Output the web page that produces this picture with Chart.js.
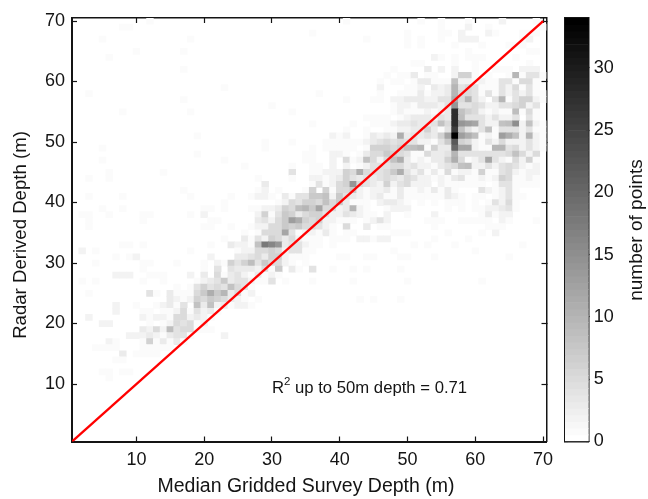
<!DOCTYPE html>
<html>
<head>
<meta charset="utf-8">
<script src="https://cdn.jsdelivr.net/npm/chart.js@4/dist/chart.umd.min.js"></script>
<style>
    html, body { margin: 0; padding: 0; background: #fff; }
    #wrap { position: relative; width: 648px; height: 499px; overflow: hidden; filter: blur(0.3px); }
    #mainChart { position: absolute; left: 0; top: 0; }
    #barChart { position: absolute; left: 548px; top: 0; }
</style>
</head>
<body>
<div id="wrap">
    <canvas id="mainChart" width="648" height="499"></canvas>
    <canvas id="barChart" width="100" height="499"></canvas>
</div>
<script>
const xTicks = [10, 20, 30, 40, 50, 60, 70];
const yTicks = [10, 20, 30, 40, 50, 60, 70];
const barTicks = [0, 5, 10, 15, 20, 25, 30];
const maxCount = 34;
const fitLine = [0, 70];

const xTitle = 'Median Gridded Survey Depth (m)';
const yTitle = 'Radar Derived Depth (m)';
const barTitle = 'number of points';

// radar depth bin of each line in rowCounts
const radarBins = [
    70, 69, 68, 67, 66, 65, 64, 63, 62, 61,
    60, 59, 58, 57, 56, 55, 54, 53, 52, 51,
    50, 49, 48, 47, 46, 45, 44, 43, 42, 41,
    40, 39, 38, 37, 36, 35, 34, 33, 32, 31,
    30, 29, 28, 27, 26, 25, 24, 23, 22, 21,
    20, 19, 18, 17, 16, 15, 14, 12, 11
];

// survey depth bin, count, survey depth bin, count ... (empty bins left out)
const rowCounts = [
    [12,1, 41,1, 52,1, 55,1, 59,1, 64,2, 69,1],
    [8,1, 9,1, 55,1, 59,2, 62,1, 70,1],
    [36,1, 50,1, 55,1, 56,1, 58,2, 62,2, 63,1, 67,1, 68,1, 69,1],
    [5,1, 18,1, 44,1, 50,1, 52,1, 55,1, 58,2, 59,2, 60,2, 67,1, 68,2],
    [50,1, 52,1, 57,1, 61,1, 65,1, 66,1, 67,1],
    [10,1, 17,1, 59,1, 68,1, 69,1],
    [6,1, 54,2, 55,1, 57,1, 59,1, 60,1, 61,1, 66,1],
    [51,1, 52,1, 57,1, 60,1, 68,1],
    [17,1, 48,1, 53,3, 55,2, 57,2, 60,1, 63,1, 64,1, 65,1, 67,2, 68,2, 69,2],
    [47,1, 49,1, 50,1, 51,3, 53,1, 54,1, 57,2, 58,6, 59,6, 60,1, 62,1, 65,1, 66,10, 67,1, 68,4, 69,4, 70,1],
    [46,1, 48,1, 49,1, 51,1, 52,3, 53,3, 54,1, 55,1, 56,1, 57,8, 58,2, 59,2, 60,1, 61,2, 62,1, 63,1, 64,4, 65,4, 66,1, 67,5, 68,5, 69,1],
    [23,1, 46,2, 50,1, 51,1, 52,2, 54,3, 55,2, 56,3, 57,10, 58,4, 59,5, 60,4, 61,1, 62,1, 63,1, 64,4, 65,2, 66,5, 67,1, 68,4, 69,1],
    [3,1, 37,1, 46,1, 49,1, 50,1, 51,1, 52,3, 53,1, 54,2, 55,2, 56,3, 57,10, 58,5, 59,5, 60,4, 61,1, 62,4, 63,1, 64,4, 65,2, 66,4, 67,2, 68,4, 69,1, 70,1],
    [17,1, 41,1, 45,1, 46,1, 48,2, 49,2, 50,3, 51,3, 52,3, 53,2, 54,2, 55,4, 56,4, 57,11, 58,5, 59,10, 60,4, 61,2, 63,4, 64,10, 65,1, 66,4, 67,6, 68,6, 69,2, 70,1],
    [30,1, 48,1, 49,2, 50,2, 51,1, 52,3, 53,3, 54,3, 55,2, 56,4, 57,14, 58,4, 59,4, 60,5, 61,4, 62,2, 63,2, 64,4, 65,4, 66,5, 67,6, 68,2, 69,4],
    [8,1, 18,1, 33,1, 48,1, 49,2, 50,1, 51,1, 52,1, 53,2, 54,1, 55,2, 56,3, 57,28, 58,8, 59,6, 60,5, 61,2, 62,1, 63,2, 64,1, 65,1, 66,9, 67,1, 68,5, 69,1],
    [44,1, 45,1, 46,1, 47,1, 49,1, 50,2, 51,3, 52,3, 53,3, 54,2, 55,4, 56,3, 57,28, 58,9, 59,4, 60,4, 61,4, 62,2, 63,4, 64,2, 65,2, 66,4, 68,4, 69,1],
    [36,1, 42,1, 45,1, 46,1, 47,1, 48,2, 49,3, 50,3, 51,4, 52,3, 53,3, 54,4, 55,8, 56,5, 57,28, 58,14, 59,13, 60,12, 61,4, 62,2, 63,2, 64,8, 65,9, 66,15, 67,2, 68,8, 69,2, 70,1],
    [41,1, 44,1, 47,1, 48,1, 49,2, 50,2, 51,3, 52,3, 53,6, 54,3, 55,1, 56,4, 57,26, 58,8, 59,4, 60,2, 61,4, 62,8, 63,1, 64,4, 65,4, 66,4, 67,2, 68,4, 69,1, 70,1],
    [19,1, 39,2, 40,1, 41,2, 44,1, 45,3, 46,2, 47,3, 48,2, 49,11, 50,3, 51,4, 52,3, 53,4, 54,3, 55,6, 56,12, 57,34, 58,13, 59,11, 60,9, 61,1, 62,2, 63,1, 64,13, 65,11, 66,8, 67,2, 68,10, 69,2, 70,1],
    [29,1, 33,1, 38,1, 39,1, 40,1, 41,1, 42,1, 43,1, 44,2, 45,3, 46,4, 47,5, 48,4, 49,5, 50,4, 51,4, 52,2, 53,2, 54,1, 55,4, 56,7, 57,22, 58,6, 59,5, 60,2, 61,1, 62,4, 63,2, 64,5, 65,2, 66,2, 67,2, 68,4, 69,2, 70,1],
    [5,1, 29,1, 36,1, 38,1, 39,1, 40,1, 41,1, 42,1, 44,1, 45,6, 46,6, 47,6, 48,5, 49,6, 50,8, 51,9, 52,10, 53,1, 54,6, 55,3, 56,3, 57,20, 58,12, 59,12, 60,2, 61,1, 62,1, 63,10, 64,10, 65,4, 66,5, 67,2, 68,4, 69,2, 70,1],
    [19,1, 35,1, 36,1, 39,2, 40,2, 41,1, 43,1, 44,3, 45,5, 46,5, 47,7, 48,6, 49,5, 50,4, 51,1, 52,1, 53,5, 54,3, 55,3, 56,4, 57,10, 58,4, 59,4, 60,4, 61,4, 62,4, 63,4, 64,4, 65,5, 66,8, 67,5, 68,2, 69,5],
    [5,1, 23,1, 35,1, 36,1, 39,2, 41,5, 42,1, 43,2, 44,8, 45,5, 46,2, 47,5, 48,8, 49,11, 50,3, 51,1, 52,2, 53,1, 54,3, 55,3, 56,6, 57,11, 58,5, 59,1, 60,2, 61,4, 62,12, 63,4, 64,2, 65,1, 66,5, 67,2, 68,6, 69,1],
    [26,1, 33,1, 36,1, 37,1, 39,2, 41,2, 43,1, 44,2, 45,4, 46,4, 47,4, 48,5, 49,5, 50,3, 51,4, 52,2, 53,2, 54,1, 55,3, 56,4, 57,5, 58,8, 59,9, 60,2, 61,2, 62,4, 63,2, 64,4, 65,5, 66,4, 67,2, 68,1, 69,2],
    [6,1, 14,1, 33,4, 36,1, 37,1, 38,2, 39,2, 40,2, 41,6, 42,5, 43,11, 44,5, 45,4, 46,4, 47,5, 48,7, 49,11, 50,4, 51,2, 52,4, 53,1, 54,3, 55,1, 56,5, 57,1, 58,2, 59,2, 60,1, 61,6, 62,1, 63,1, 64,4, 65,5, 66,2, 67,1, 68,2, 69,2],
    [3,1, 6,1, 28,1, 33,1, 36,2, 37,2, 38,1, 39,2, 40,3, 41,6, 42,4, 43,3, 44,4, 45,3, 46,4, 47,5, 48,4, 49,3, 50,5, 51,4, 52,2, 53,2, 54,1, 55,2, 56,1, 57,3, 58,4, 59,1, 60,1, 61,2, 62,1, 63,2, 64,6, 65,5, 66,1, 67,1, 68,2, 69,1],
    [29,3, 36,1, 37,4, 38,1, 39,2, 40,5, 41,6, 42,14, 43,5, 44,4, 45,3, 46,2, 47,6, 48,2, 49,4, 50,5, 51,2, 52,2, 53,2, 55,2, 56,1, 57,1, 58,1, 59,1, 60,1, 61,1, 63,1, 64,4, 65,4, 66,1, 67,1, 68,1, 69,1],
    [17,1, 28,1, 29,2, 31,1, 35,1, 36,6, 38,6, 39,1, 40,5, 41,5, 42,7, 43,2, 44,1, 45,2, 46,2, 47,3, 48,1, 49,3, 50,1, 51,1, 52,2, 53,1, 54,3, 55,1, 56,3, 57,1, 61,4, 62,2, 63,1, 64,2, 65,4, 66,1],
    [3,1, 8,1, 18,1, 24,1, 27,1, 28,2, 29,2, 30,1, 32,3, 33,1, 34,4, 35,4, 36,7, 37,7, 38,8, 39,2, 40,7, 41,4, 42,3, 43,2, 44,1, 45,2, 46,3, 47,1, 48,1, 49,3, 50,1, 51,1, 52,1, 53,1, 54,1, 55,1, 56,3, 57,2, 58,1, 60,1, 61,1, 63,1, 64,2, 65,4, 66,1, 67,1],
    [23,1, 31,1, 32,2, 33,5, 34,4, 35,6, 36,6, 37,5, 38,8, 39,5, 40,7, 41,3, 42,1, 43,1, 44,1, 46,2, 47,3, 48,3, 49,2, 50,1, 52,1, 54,1, 56,1, 57,1, 58,1, 60,1, 62,1, 63,4, 64,2, 65,5, 66,1],
    [5,1, 8,1, 20,1, 21,1, 23,1, 27,1, 28,1, 29,2, 30,2, 31,3, 32,6, 33,5, 34,9, 35,10, 36,7, 37,12, 38,5, 39,5, 40,2, 41,3, 42,10, 43,2, 44,1, 47,1, 48,2, 49,2, 50,2, 56,1, 58,1, 60,1, 61,1, 62,2, 63,2, 64,3, 65,4, 66,1],
    [2,1, 3,1, 6,1, 11,1, 12,1, 18,1, 20,2, 28,2, 29,6, 30,1, 31,4, 32,7, 33,6, 34,3, 35,5, 36,6, 37,6, 38,4, 39,2, 40,2, 41,4, 42,3, 43,2, 44,1, 45,1, 47,2, 50,1, 54,2, 61,1, 62,3, 63,1, 64,2, 65,2],
    [3,1, 11,1, 21,1, 22,1, 28,3, 29,4, 30,2, 31,5, 32,7, 33,13, 34,11, 35,6, 36,5, 37,6, 38,2, 39,2, 40,1, 41,1, 42,1, 44,1, 45,2, 46,4, 47,2, 53,1, 54,1, 55,1, 58,1, 59,1, 60,1, 61,1, 62,1, 64,2, 65,1, 69,1],
    [3,1, 20,1, 21,1, 24,1, 27,1, 28,2, 29,2, 30,5, 31,5, 32,7, 33,6, 34,7, 35,5, 36,5, 37,4, 38,2, 39,1, 41,5, 44,3, 46,1, 47,1, 54,1, 62,1, 63,1, 64,1],
    [26,1, 28,1, 29,5, 30,5, 31,5, 32,12, 33,4, 34,1, 35,2, 36,2, 37,1, 38,3, 39,1, 41,1, 42,1, 48,1, 49,1, 50,1, 56,1, 61,1, 63,2],
    [23,1, 26,3, 27,1, 28,4, 29,2, 30,6, 31,5, 32,3, 33,5, 34,2, 35,1, 36,1, 37,1, 39,1, 40,1, 41,1, 43,2, 44,2, 45,1, 46,2, 47,2, 54,1, 59,1],
    [8,1, 9,1, 11,1, 21,1, 24,3, 25,2, 26,2, 27,1, 28,8, 29,18, 30,16, 31,14, 32,3, 33,4, 34,4, 35,2, 36,1, 37,1, 39,1, 51,1, 53,1, 57,1, 67,1],
    [2,2, 4,1, 18,1, 25,1, 26,2, 27,2, 28,5, 29,5, 30,6, 31,5, 32,2, 33,4, 34,4, 35,1, 36,1, 48,1, 60,1],
    [7,1, 9,1, 10,2, 21,2, 25,3, 26,3, 27,4, 28,5, 29,3, 30,6, 31,6, 32,2, 33,1, 34,1, 35,1, 40,1, 41,1, 44,1, 45,1, 49,1, 50,1, 54,1, 65,1],
    [4,1, 11,1, 12,1, 16,1, 20,1, 22,2, 23,1, 24,6, 25,4, 26,6, 27,9, 28,4, 29,7, 30,5, 31,5, 32,2, 33,1, 35,1],
    [11,1, 20,1, 22,4, 24,4, 25,3, 26,3, 27,3, 28,2, 29,5, 30,1, 31,7, 33,3, 34,1, 36,4, 39,1, 42,1, 44,1, 49,1],
    [7,2, 8,2, 9,2, 12,1, 13,1, 14,1, 18,2, 20,3, 22,5, 23,1, 24,3, 25,4, 26,2, 27,1, 28,3, 29,1, 30,2, 31,1],
    [2,1, 4,1, 11,1, 14,1, 19,1, 20,2, 21,3, 22,4, 23,7, 24,3, 25,4, 26,4, 27,2, 28,1, 29,1, 30,4, 32,1, 36,1, 42,1, 50,1, 61,1],
    [16,1, 18,1, 19,4, 20,6, 21,4, 22,5, 23,4, 24,8, 25,5, 26,4, 27,1],
    [3,1, 12,4, 13,1, 15,3, 16,1, 17,1, 18,1, 19,5, 20,7, 21,11, 22,7, 23,10, 24,3, 25,5, 26,1, 27,2],
    [15,3, 16,2, 17,1, 18,2, 19,6, 20,5, 21,7, 22,6, 23,5, 24,3, 25,2, 26,1, 28,1, 43,1, 45,1, 49,1],
    [7,2, 10,1, 13,1, 14,2, 15,3, 16,1, 17,4, 19,8, 20,3, 21,8, 22,2, 23,3, 24,1, 25,2, 26,2, 27,1],
    [7,2, 11,1, 12,1, 14,1, 15,1, 16,2, 17,5, 18,1, 19,4, 20,2, 21,3, 22,1],
    [3,2, 11,2, 12,1, 13,2, 14,2, 15,1, 16,5, 17,5, 18,2, 19,3, 20,2, 21,1],
    [5,2, 6,2, 12,1, 14,1, 15,2, 16,5, 17,4, 18,5, 19,1, 20,2],
    [11,3, 12,2, 13,5, 14,2, 15,9, 16,4, 17,5, 18,5, 19,1, 20,1, 21,1],
    [9,2, 10,2, 11,2, 12,3, 13,2, 14,1, 15,3, 16,4, 17,4, 18,1, 23,2],
    [6,2, 7,1, 11,1, 12,6, 13,1, 14,3, 15,1, 16,3, 17,1],
    [4,1, 5,1, 6,1, 7,1, 11,1, 12,1, 13,1, 14,1, 15,1],
    [8,3, 10,1, 11,1, 12,1, 13,1],
    [7,1, 8,1],
    [5,1, 6,1, 8,1, 9,1],
    [6,1]
];

const ink = '#141414';
const fontFamily = '"Liberation Sans", Arial, sans-serif';

function grayFor(n) {
    // flipped 64 step gray map, 0 is white and maxCount is black
    const step = Math.min(63, Math.floor(n / maxCount * 64));
    const g = Math.round(255 * (1 - step / 63));
    return `rgb(${g},${g},${g})`;
}

const cells = [];
radarBins.forEach((bin, i) => {
    const pairs = rowCounts[i];
    for (let k = 0; k < pairs.length; k += 2) {
        cells.push({ x: pairs[k], y: [bin - 0.5, bin + 0.5], n: pairs[k + 1] });
    }
});

function fixedTicks(values) {
    return scale => { scale.ticks = values.map(v => ({ value: v })); };
}

function frameAxis(position, size, ticks, showLabels, padding, width) {
    const horizontal = position === 'top' || position === 'bottom';
    return {
        type: 'linear',
        axis: horizontal ? 'x' : 'y',
        position: position,
        offset: false,
        afterBuildTicks: fixedTicks(ticks),
        afterFit: scale => {
            if (horizontal) scale.height = size;
            else scale.width = size;
            // tick labels must not push the plot box around
            scale.paddingTop = scale.paddingBottom = scale.paddingLeft = scale.paddingRight = 0;
        },
        border: { display: true, color: ink, width: width },
        grid: { offset: false, drawOnChartArea: false, drawTicks: true, tickLength: -5, tickColor: ink, tickWidth: 1.2 },
        ticks: {
            display: showLabels,
            color: ink,
            padding: padding,
            autoSkip: false,
            maxRotation: 0,
            font: { family: fontFamily, size: 18 }
        }
    };
}

function withRange(axis, min, max) {
    axis.min = min;
    axis.max = max;
    return axis;
}

function drawText(ctx, text, x, y, font, angle) {
    ctx.save();
    ctx.translate(x, y);
    ctx.rotate(angle);
    ctx.fillStyle = ink;
    ctx.textAlign = 'center';
    ctx.textBaseline = 'middle';
    ctx.font = `${font}px ${fontFamily}`;
    ctx.fillText(text, 0, 0);
    ctx.restore();
}

const annotation = {
    id: 'annotation',
    afterDraw(chart) {
        const ctx = chart.ctx;
        const x = chart.scales.x.getPixelForValue(30);
        const y = chart.scales.y.getPixelForValue(10);
        ctx.save();
        ctx.fillStyle = ink;
        ctx.textBaseline = 'alphabetic';
        ctx.font = `16.7px ${fontFamily}`;
        ctx.fillText('R', x, y + 9);
        const w = ctx.measureText('R').width;
        ctx.font = `11.5px ${fontFamily}`;
        ctx.fillText('2', x + w, y + 1);
        ctx.font = `16.7px ${fontFamily}`;
        ctx.fillText('up to 50m depth = 0.71', x + w + 11, y + 9);
        ctx.restore();
        drawText(ctx, xTitle, 306, 487, 19.5, 0);
        drawText(ctx, yTitle, 21, 235, 18.6, -Math.PI / 2);
    }
};

new Chart(document.getElementById('mainChart'), {
    type: 'bar',
    data: {
        datasets: [
            {
                type: 'line',
                data: fitLine.map(v => ({ x: v, y: v })),
                borderColor: '#ff0000',
                borderWidth: 2.4,
                pointRadius: 0,
                tension: 0,
                order: 0
            },
            {
                data: cells,
                backgroundColor: cells.map(c => grayFor(c.n)),
                barPercentage: 1,
                categoryPercentage: 1,
                grouped: false,
                order: 1
            }
        ]
    },
    options: {
        responsive: false,
        animation: false,
        events: [],
        layout: { padding: 0 },
        plugins: { legend: { display: false }, tooltip: { enabled: false } },
        scales: {
            x: withRange(frameAxis('bottom', 57.5, xTicks, true, 13, 2), 0.5, 70.5),
            y: withRange(frameAxis('left', 72, yTicks, true, 12, 2), 0.5, 70.5),
            xTop: withRange(frameAxis('top', 18, xTicks, false, 0, 1.5), 0.5, 70.5),
            yRight: withRange(frameAxis('right', 101.5, yTicks, false, 0, 1.5), 0.5, 70.5)
        }
    },
    plugins: [annotation]
});

// colour bar, one band per step of the gray map
const barBands = [];
for (let s = 0; s < 64; s++) {
    barBands.push({ x: 0.5, y: [s * maxCount / 64, (s + 1) * maxCount / 64], n: (s + 0.5) * maxCount / 64 });
}

const barLabel = {
    id: 'barLabel',
    afterDraw(chart) {
        drawText(chart.ctx, barTitle, 89, 230, 19, -Math.PI / 2);
    }
};

const barRight = withRange(frameAxis('right', 59.3, barTicks, true, 8, 1.5), 0, maxCount);
barRight.grid.tickLength = -3;
const barLeft = withRange(frameAxis('left', 17, barTicks, false, 0, 1.5), 0, maxCount);
barLeft.grid.tickLength = -3;

new Chart(document.getElementById('barChart'), {
    type: 'bar',
    data: {
        datasets: [{
            data: barBands,
            backgroundColor: barBands.map(b => grayFor(b.n)),
            barPercentage: 1,
            categoryPercentage: 1,
            grouped: false
        }]
    },
    options: {
        responsive: false,
        animation: false,
        events: [],
        layout: { padding: 0 },
        plugins: { legend: { display: false }, tooltip: { enabled: false } },
        scales: {
            x: withRange(frameAxis('bottom', 57.5, [], false, 0, 1.5), 0, 1),
            xTop: withRange(frameAxis('top', 18, [], false, 0, 1.5), 0, 1),
            y: barRight,
            yLeft: barLeft
        }
    },
    plugins: [barLabel]
});
</script>
</body>
</html>
